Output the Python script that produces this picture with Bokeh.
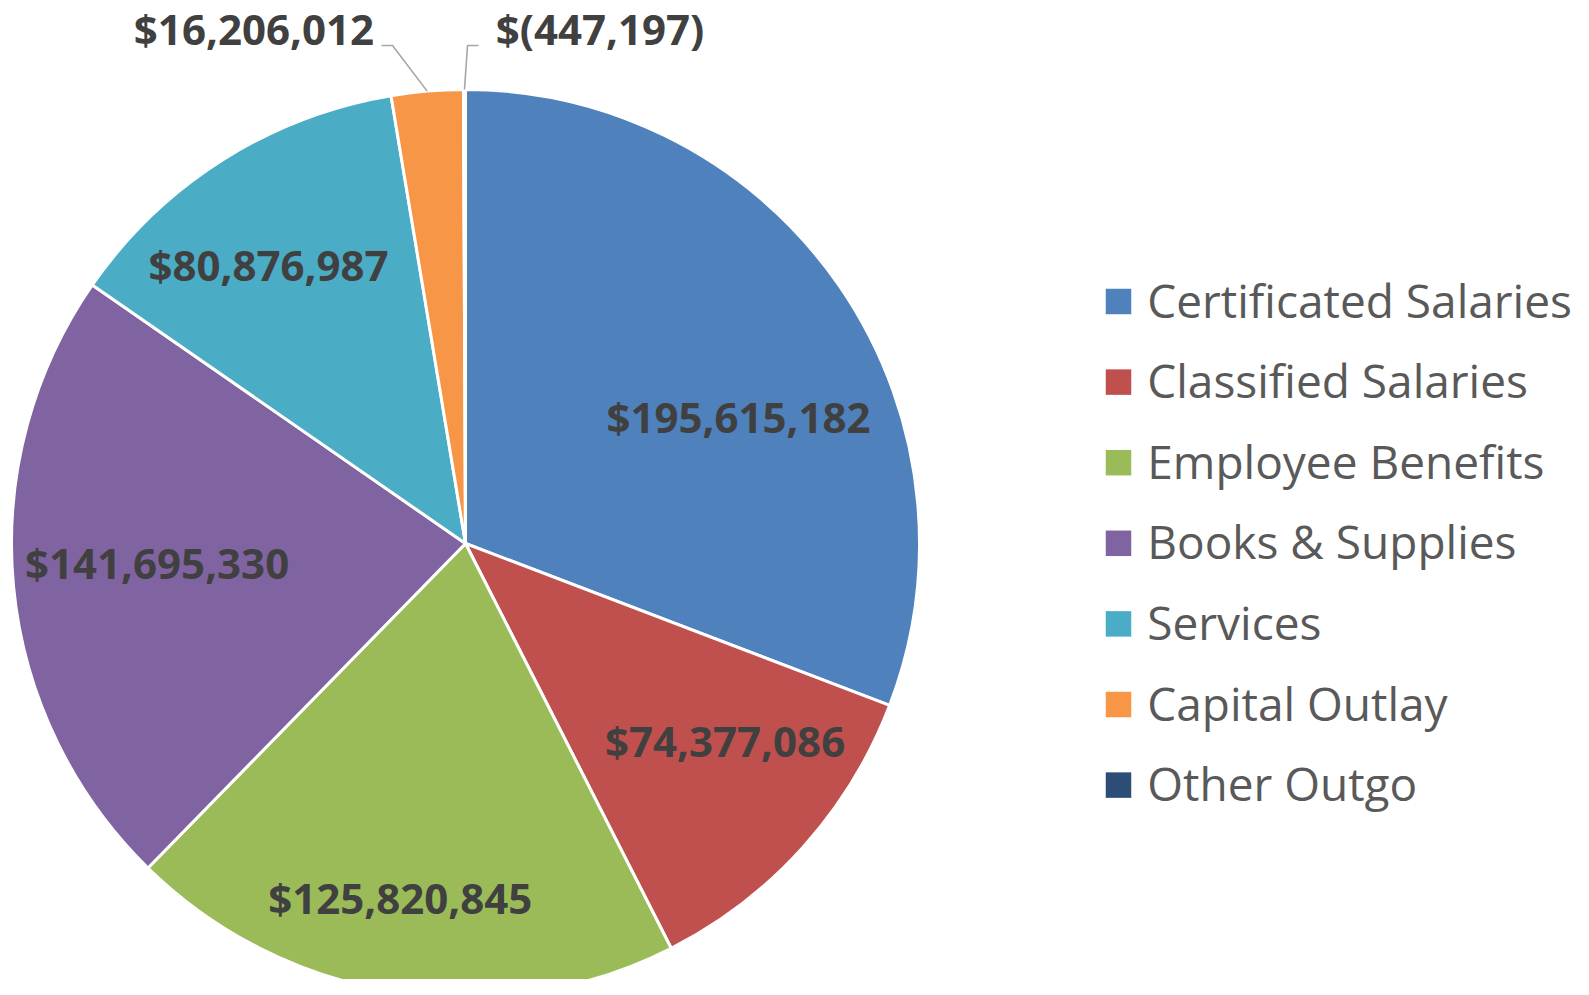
import math
from bokeh.plotting import figure
from bokeh.models import Range1d, ColumnDataSource
from bokeh.core.properties import value
from bokeh.embed import file_html
from bokeh.resources import INLINE

# ---------------- data ----------------
categories = ["Certificated Salaries", "Classified Salaries", "Employee Benefits",
              "Books & Supplies", "Services", "Capital Outlay", "Other Outgo"]
amounts = [195615182, 74377086, 125820845, 141695330, 80876987, 16206012, -447197]
colors = ["#4F81BD", "#C0504D", "#9BBB59", "#8064A2", "#4BACC6", "#F79646", "#2C4D75"]

# ---------------- layout ----------------
W, H = 1573, 979
OFF = 0


def sx(X):
    return X - OFF


def sy(Y):
    return (H + OFF) - Y


CX, CY, R = 465, 543, 454          # pie centre / radius (page pixels)
# label offsets from pie centre (dx right, dy up), page pixels
label_offsets = [(273, 127.5), (259.6, -196.8), (-65.2, -353.9), (-308.4, -18.5),
                 (-197, 279.5), (-211.6, 514.6), (134.4, 514.6)]
# leader-line elbows for outside labels (index -> list of page points)
leaders = {5: [(381, 45), (392, 45)], 6: [(478, 45), (467, 45)]}

LEG_X, LEG_Y0, LEG_DY, LEG_SQ = 1118, 301, 80.6, 25.5

# ---------------- geometry from data ----------------
mags = [abs(a) for a in amounts]
total = float(sum(mags))
starts, ends, mids = [], [], []
cum = 0.0
for m in mags:
    a0 = math.pi / 2 - 2 * math.pi * cum / total
    cum += m
    a1 = math.pi / 2 - 2 * math.pi * cum / total
    starts.append(a0)
    ends.append(a1)
    mids.append((a0 + a1) / 2)


def fmt(v):
    return "${:,}".format(v) if v >= 0 else "$({:,})".format(-v)


labels = [fmt(v) for v in amounts]

src = ColumnDataSource(dict(
    x=[sx(CX)] * len(amounts), y=[sy(CY)] * len(amounts),
    start=starts, end=ends, color=colors, cat=categories))

p = figure(width=W, height=H, x_range=Range1d(0, W), y_range=Range1d(0, H),
           output_backend="svg", toolbar_location=None, min_border=0)
p.axis.visible = False
p.grid.visible = False
p.outline_line_color = None
p.background_fill_color = "white"
p.border_fill_color = "white"

p.wedge(x="x", y="y", radius=R, start_angle="start", end_angle="end",
        direction="clock", fill_color="color", line_color="white",
        line_width=3, source=src)

# leader lines
for i, pts in leaders.items():
    ex = CX + R * math.cos(mids[i])
    ey = CY - R * math.sin(mids[i])
    xs = [sx(px) for px, _ in pts] + [sx(ex)]
    ys = [sy(py) for _, py in pts] + [sy(ey)]
    p.line(xs, ys, line_color="#A6A6A6", line_width=1.6)

# data labels
lx = [sx(CX + dx) for dx, _ in label_offsets]
ly = [sy(CY) + dy for _, dy in label_offsets]
p.text(x=lx, y=ly, text=labels, text_align="center", text_baseline="middle",
       text_font=value("Open Sans"), text_font_style="bold",
       text_font_size="42px", text_color="#404040")

# legend (drawn manually)
ly_leg = [sy(LEG_Y0 + i * LEG_DY) for i in range(len(categories))]
p.rect(x=[sx(LEG_X)] * len(categories), y=ly_leg, width=LEG_SQ, height=LEG_SQ,
       fill_color=colors, line_color=None)
p.text(x=[sx(LEG_X + LEG_SQ / 2 + 16)] * len(categories), y=[v + 2 for v in ly_leg],
       text=categories, text_align="left", text_baseline="middle",
       text_font=value("Open Sans"), text_font_size="46px", text_color="#595959")

open("out.html", "w").write(file_html(p, INLINE))
